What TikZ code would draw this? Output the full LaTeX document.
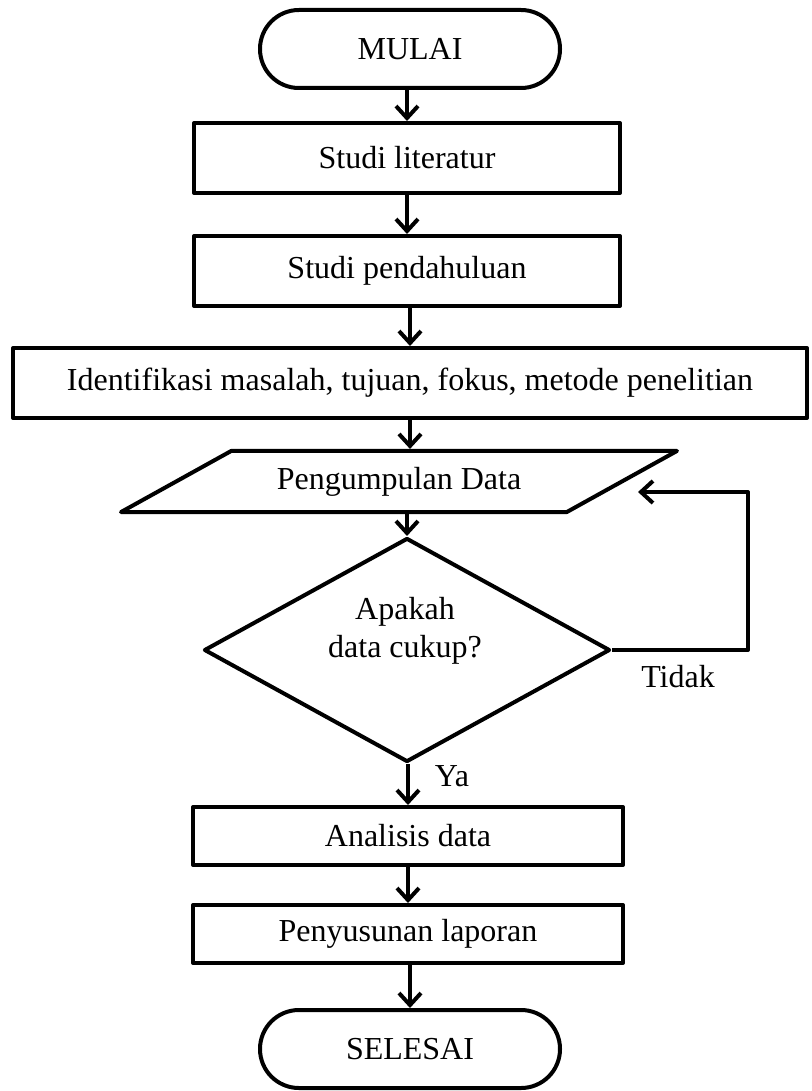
\documentclass[tikz,border=0pt]{standalone}
\usepackage{fontspec}
\setmainfont{Liberation Serif}
\usetikzlibrary{arrows.meta}
\usetikzlibrary{shapes.geometric}

\begin{document}
\begin{tikzpicture}[x=1pt, y=-1pt, line width=4pt, line join=round,
  font=\fontsize{32}{38}\selectfont,
  ujung/.style={draw, rectangle, rounded corners=38.9pt, minimum width=300pt, minimum height=78pt},
  proses/.style={draw, rectangle, minimum width=426pt, minimum height=70pt, inner sep=0pt},
  masukan/.style={draw, trapezium, trapezium left angle=29, trapezium right angle=151,
    trapezium stretches body=true, minimum width=556pt, inner xsep=0pt, inner ysep=16pt},
  keputusan/.style={draw, diamond, minimum width=406pt, minimum height=224pt, inner sep=0pt},
  >={Straight Barb[length=12pt,width=22pt]}]
\useasboundingbox (0,0) rectangle (811,1091);
\node[ujung] (mulai) at (410,49) {MULAI};
\node[proses] (lit) at (407,158) {Studi literatur};
\node[proses] (pend) at (407,271) {Studi pendahuluan};
\node[proses, minimum width=794pt] (idf) at (410,383) {Identifikasi masalah, tujuan, fokus, metode penelitian};
\node[masukan] (data) at (399,481.5) {Pengumpulan Data};
\node[keputusan] (cek) at (407,650) {};
\node[align=center] (cektxt) at (405,631) {Apakah\\data cukup?};
\node[proses, minimum width=430pt, minimum height=58pt] (analisis) at (408,836) {Analisis data};
\node[proses, minimum width=430pt, minimum height=58pt] (lapor) at (408,934) {Penyusunan laporan};
\node[ujung] (selesai) at (410,1049) {SELESAI};
% alur utama
\foreach \a/\b in {mulai/lit, lit/pend, pend/idf, data/cek, cek/analisis, analisis/lapor, lapor/selesai} {
 \draw[->] (\b.north |- \a.south) -- (\b.north);
}
\draw[->] (idf.south) -- (idf.south |- data.north);
% kembali jika data belum cukup
\coordinate (balik) at (638,492);
\draw[->] (cek.east) -- ++(136,0) |- (balik);
\node (tidak) at (678,677) {Tidak};
\node (ya) at (452,776) {Ya};
\end{tikzpicture}
\end{document}
